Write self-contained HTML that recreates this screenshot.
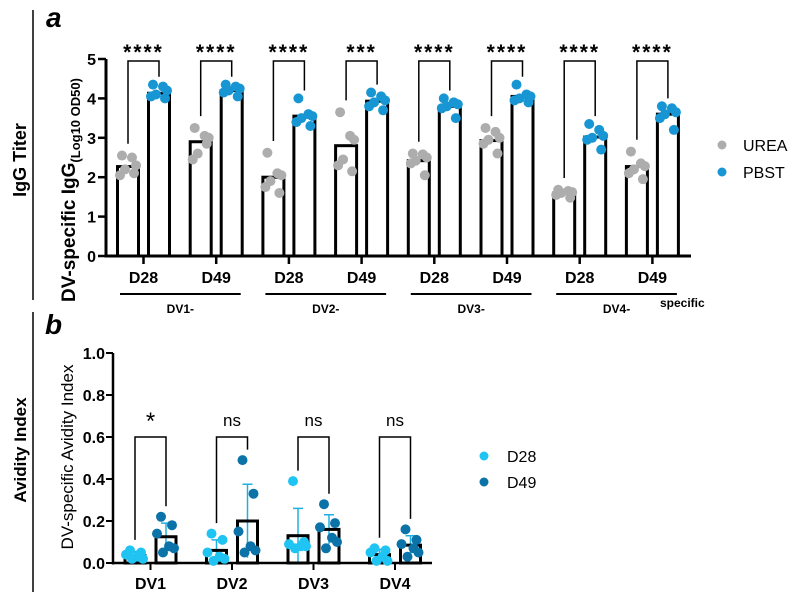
<!DOCTYPE html>
<html><head><meta charset="utf-8"><style>
body{margin:0;background:#fff;font-family:"Liberation Sans",Arial,sans-serif}
svg text{font-family:"Liberation Sans",Arial,sans-serif}
</style></head><body>
<svg id="c" width="797" height="598" viewBox="0 0 797 598" style="position:absolute;left:0;top:0"></svg>
<script>
// ---- Panel a data ----
const aGroups = ["D28","D49","D28","D49","D28","D49","D28","D49"];
const aSerotypes = ["DV1-","DV2-","DV3-","DV4-"];
const ureaMean = [2.27,2.9,2.0,2.8,2.42,2.93,1.6,2.27];
const pbstMean = [4.13,4.2,3.55,3.93,3.8,4.05,3.02,3.6];
const ureaPts = [[2.55,2.5,2.3,2.2,2.05,2.1],[3.25,3.05,3.0,2.6,2.45,2.85],[2.62,2.1,2.05,1.9,1.75,1.6],[3.65,3.05,2.95,2.45,2.3,2.15],[2.6,2.58,2.5,2.42,2.35,2.05],[3.25,3.15,3.0,2.95,2.85,2.6],[1.68,1.65,1.62,1.6,1.55,1.48],[2.65,2.35,2.28,2.2,2.1,1.95]];
const pbstPts = [[4.35,4.3,4.2,4.1,4.05,4.0],[4.35,4.3,4.25,4.2,4.15,4.05],[4.0,3.6,3.55,3.5,3.4,3.3],[4.15,4.05,3.95,3.9,3.8,3.7],[4.0,3.9,3.85,3.8,3.75,3.5],[4.35,4.1,4.05,4.0,3.95,3.9],[3.35,3.2,3.05,3.0,2.95,2.7],[3.8,3.75,3.65,3.6,3.5,3.2]];
const aSig = ["****","****","****","***","****","****","****","****"];
const aTicks = [0,1,2,3,4,5];
// ---- Panel b data ----
const bCats = ["DV1","DV2","DV3","DV4"];
const d28Mean = [0.035,0.06,0.13,0.04];
const d49Mean = [0.125,0.2,0.16,0.085];
const d28Sd = [0.02,0.05,0.13,0.025];
const d49Sd = [0.065,0.175,0.07,0.045];
const d28Pts = [[0.06,0.05,0.04,0.03,0.02,0.02],[0.14,0.11,0.05,0.03,0.02,0.01],[0.39,0.1,0.09,0.08,0.08,0.07],[0.07,0.06,0.05,0.03,0.01,0.01]];
const d49Pts = [[0.22,0.18,0.14,0.08,0.07,0.05],[0.49,0.33,0.15,0.08,0.06,0.05],[0.28,0.19,0.17,0.12,0.1,0.07],[0.16,0.11,0.09,0.07,0.05,0.03]];
const bSig = ["*","ns","ns","ns"];
const bTicks = [0,0.2,0.4,0.6,0.8,1.0];

const NS="http://www.w3.org/2000/svg";
const svg=document.getElementById('c');
function el(tag,attrs,parent){const e=document.createElementNS(NS,tag);for(const k in attrs)e.setAttribute(k,attrs[k]);(parent||svg).appendChild(e);return e;}
function txt(s,attrs,parent){const e=el('text',attrs,parent);e.textContent=s;return e;}

const ay=v=>256-v*39.4;
const aUx=i=>128+i*72.7;
const bw=21;
const AX=106;
const gA=el('g',{});


let ax=el('line',{x1:AX,y1:ay(5),x2:AX,y2:257.5,stroke:'#000','stroke-width':3},gA);
 
let axx=el('line',{x1:AX-1.5,y1:256,x2:691,y2:256,stroke:'#000','stroke-width':3},gA);
 
aTicks.forEach(t=>{
  const l=el('line',{x1:AX-8,y1:ay(t),x2:AX,y2:ay(t),stroke:'#000','stroke-width':2.5},gA);
   
  const tx=txt(String(t),{x:AX-10,y:ay(t)+6,'text-anchor':'end','font-size':16,'font-weight':'bold'},gA);
   
});
aGroups.forEach((g,i)=>{
  const ux=aUx(i), px=ux+31;
  [[ux,ureaMean[i],ureaPts[i],'#adadad','bar-urea'],[px,pbstMean[i],pbstPts[i],'#1896d3','bar-pbst']].forEach(([cx,m,pts,col,nm])=>{
    const r=el('rect',{x:cx-bw/2,y:ay(m),width:bw,height:256-ay(m),fill:'#fff',stroke:'#000','stroke-width':3},gA);
     
    const offs=[-6,4,8,-3,-8,6];
    pts.forEach((p,k)=>{
      const c=el('circle',{cx:cx+offs[k],cy:ay(p),r:5,fill:col},gA);
       
    });
  });
  const mx=(ux+px)/2;
  const tk=el('line',{x1:mx,y1:256,x2:mx,y2:264,stroke:'#000','stroke-width':2.5},gA);
   
  const lb=txt(g,{x:mx,y:283,'text-anchor':'middle','font-size':16,'font-weight':'bold'},gA);
   
  const lTop=ay(Math.max(...ureaPts[i])+0.3), rTop=ay(Math.max(...pbstPts[i])+0.2), top=ay(4.95);
  const br=el('polyline',{points:`${ux},${lTop} ${ux},${top} ${px},${top} ${px},${rTop}`,fill:'none',stroke:'#000','stroke-width':1.5},gA);
   
  const st=txt(aSig[i],{x:mx,y:top-2,'text-anchor':'middle','font-size':21,'font-weight':'bold','letter-spacing':2},gA);
   
});
aSerotypes.forEach((s,j)=>{
  const x1=aUx(2*j)-8, x2=aUx(2*j+1)+40;
  const u=el('line',{x1:x1,y1:294,x2:x2,y2:294,stroke:'#000','stroke-width':2},gA);
   
  const t=txt(s,{x:(x1+x2)/2,y:313,'text-anchor':'middle','font-size':12,'font-weight':'bold'},gA);
   
});
const by=v=>563-v*210;
const bx=i=>135+i*81.5;
const bbw=20;
const BX=113;
const gB=el('g',{});


let bax=el('line',{x1:BX,y1:by(1),x2:BX,y2:564.5,stroke:'#000','stroke-width':2.5},gB);
 
let baxx=el('line',{x1:BX-1,y1:563,x2:432,y2:563,stroke:'#000','stroke-width':2.5},gB);
 
bTicks.forEach(t=>{
  const l=el('line',{x1:BX-7,y1:by(t),x2:BX,y2:by(t),stroke:'#000','stroke-width':2},gB);
   
  const tx=txt(t.toFixed(1),{x:BX-8,y:by(t)+6,'text-anchor':'end','font-size':16,'font-weight':'bold'},gB);
   
});
bCats.forEach((c,i)=>{
  const x28=bx(i), x49=x28+31;
  [[x28,d28Mean[i],d28Sd[i],d28Pts[i],'#20c4f2','bar-d28'],[x49,d49Mean[i],d49Sd[i],d49Pts[i],'#0b73a8','bar-d49']].forEach(([cx,m,sd,pts,col,nm])=>{
    const e=el('polyline',{points:`${cx-5},${by(m+sd)} ${cx+5},${by(m+sd)} ${cx},${by(m+sd)} ${cx},${by(Math.max(m-sd,0))}`,fill:'none',stroke:'#20b0e0','stroke-width':1.5},gB);
     
    const r=el('rect',{x:cx-bbw/2,y:by(m),width:bbw,height:563-by(m),fill:'none',stroke:'#000','stroke-width':3},gB);
     
    const offs=[-5,6,-9,3,8,-3];
    pts.forEach((p,k)=>{
      const d=el('circle',{cx:cx+offs[k],cy:by(p),r:5,fill:col},gB);
       
    });
  });
  const mx=(x28+x49)/2;
  const tk=el('line',{x1:mx,y1:563,x2:mx,y2:570,stroke:'#000','stroke-width':2},gB);
   
  const lb=txt(c,{x:mx,y:589,'text-anchor':'middle','font-size':16,'font-weight':'bold'},gB);
   
  const top=by(0.6), lT=by(Math.max(...d28Pts[i])+0.05), rT=by(Math.max(...d49Pts[i])+0.05);
  const br=el('polyline',{points:`${x28},${lT} ${x28},${top} ${x49},${top} ${x49},${rT}`,fill:'none',stroke:'#000','stroke-width':1.5},gB);
   
  const st=txt(bSig[i],{x:mx,y:bSig[i]==='*'?top-8:top-11,'text-anchor':'middle','font-size':bSig[i]==='*'?24:17},gB);
   
});
</script>
<svg width="797" height="598" style="position:absolute;left:0;top:0">
<line x1="33" y1="10" x2="33" y2="300" stroke="#000" stroke-width="1.5"/>
<line x1="33" y1="312" x2="33" y2="592" stroke="#000" stroke-width="1.5"/>
<text transform="translate(26,160) rotate(-90)" text-anchor="middle" font-size="18" font-weight="bold" font-family="Liberation Serif,serif">IgG Titer</text>
<text transform="translate(26,450) rotate(-90)" text-anchor="middle" font-size="17" font-weight="bold" font-family="Liberation Serif,serif">Avidity Index</text>
<text x="46" y="27" font-size="28" font-weight="bold" font-style="italic" font-family="Liberation Sans,sans-serif">a</text>
<text x="45" y="334" font-size="28" font-weight="bold" font-style="italic" font-family="Liberation Sans,sans-serif">b</text>
<text transform="translate(75,190) rotate(-90)" text-anchor="middle" font-size="19" font-weight="bold" font-family="Liberation Sans,sans-serif">DV-specific IgG<tspan font-size="13" dy="5">(Log10 OD50)</tspan></text>
<text transform="translate(73,457) rotate(-90)" text-anchor="middle" font-size="17" font-family="Liberation Sans,sans-serif">DV-specific Avidity Index</text>
<text x="660" y="307" font-size="12" font-weight="bold" font-family="Liberation Sans,sans-serif">specific</text>
<g>
<circle cx="722" cy="145" r="4.5" fill="#adadad"/>
<text x="743" y="151" font-size="16" font-family="Liberation Sans,sans-serif">UREA</text>
<circle cx="722" cy="172" r="4.5" fill="#1896d3"/>
<text x="743" y="178" font-size="16" font-family="Liberation Sans,sans-serif">PBST</text>
</g>
<g>
<circle cx="484" cy="456" r="4.5" fill="#20c4f2"/>
<text x="507" y="462" font-size="16" font-family="Liberation Sans,sans-serif">D28</text>
<circle cx="484" cy="482" r="4.5" fill="#0b73a8"/>
<text x="507" y="488" font-size="16" font-family="Liberation Sans,sans-serif">D49</text>
</g>
</svg>
</body></html>
